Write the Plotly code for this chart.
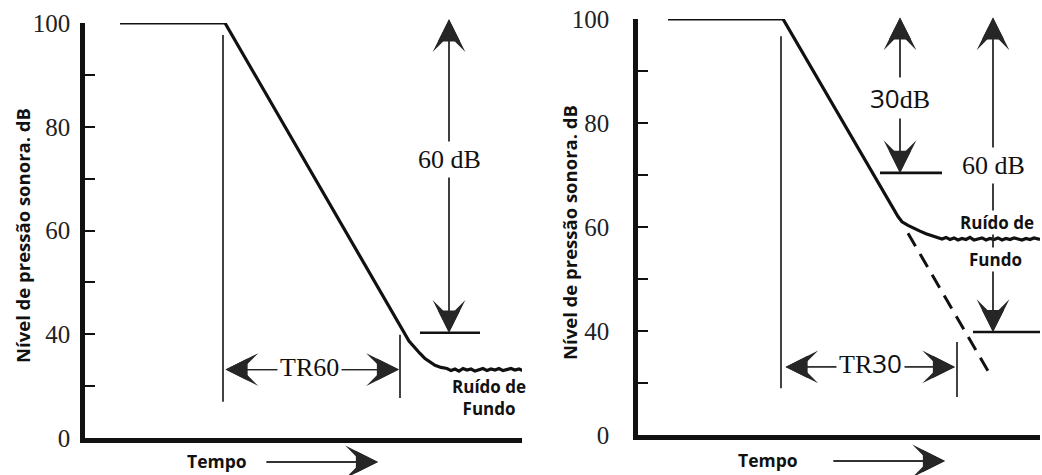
import plotly.graph_objects as go

W, H = 1042, 475

# ---------------- data (time in s, level in dB) ----------------
# Left panel: decay measured over the full 60 dB (TR60)
t_left = [0.35, 1.40, 3.24, 3.30, 3.35, 3.40, 3.45, 3.50, 3.56, 3.62,
          3.66, 3.70, 3.74, 3.78, 3.82, 3.86, 3.90, 3.94, 3.98, 4.02,
          4.06, 4.10, 4.14, 4.18, 4.22, 4.26, 4.30, 4.34, 4.38, 4.40]
db_left = [100, 100, 38.7, 37.3, 36.3, 35.3, 34.6, 34.0, 33.6, 33.4,
           33.0, 33.3, 32.9, 33.4, 33.1, 33.3, 32.9, 33.2, 33.4, 33.0,
           33.3, 33.1, 33.4, 33.0, 33.2, 33.4, 33.1, 33.3, 33.0, 33.2]

# Right panel: decay hits background noise, TR30 extrapolated
t_right = [0.30, 1.45, 2.60, 2.64, 2.70, 2.76, 2.82, 2.88, 2.94, 3.00,
           3.04, 3.08, 3.12, 3.16, 3.20, 3.24, 3.28, 3.32, 3.36, 3.40,
           3.44, 3.48, 3.52, 3.56, 3.60, 3.64, 3.68, 3.72, 3.76, 3.80,
           3.84, 3.88, 3.92, 3.96, 4.00, 4.02]
db_right = [100, 100, 62.0, 61.0, 60.3, 59.7, 59.2, 58.7, 58.3, 58.0,
            57.7, 58.0, 57.6, 57.9, 57.5, 57.8, 57.6, 58.0, 57.5, 57.7,
            57.9, 57.5, 57.8, 57.6, 57.9, 57.5, 57.8, 57.6, 57.9, 57.7,
            57.5, 57.8, 57.6, 57.9, 57.7, 57.6]
t_extrap = [2.70, 3.54]
db_extrap = [58.8, 31.0]

y_tickvals = [20, 40, 60, 80, 100]
y_ticktext = ["0", "40", "60", "80", "100"]
y_minor = [30, 50, 70, 90]

# reference levels / markers (t, dB)
left_top = ([1.55, 3.97], [101.0, 101.0])
left_low = ([3.35, 3.95], [40.3, 40.3])
left_v1 = ([1.38, 1.38], [97.7, 27.0])
left_v2 = ([3.15, 3.15], [39.9, 27.7])
right_top = ([1.55, 4.02], [100.6, 100.6])
right_mid = ([2.42, 3.04], [70.4, 70.4])
right_low = ([3.35, 4.02], [39.8, 39.8])
right_v1 = ([1.43, 1.43], [96.7, 29.0])
right_v2 = ([3.19, 3.19], [37.9, 27.3])

SERIF = "Liberation Serif"
SANS = "Open Sans"
INK = "#111111"
ARROW = "#262626"
HEAD = 4.2      # barbed outline head
CORE = 3.4      # filled core head

fig = go.Figure()

def line(xs, ys, xa, ya, width, dash=None, color=INK):
    fig.add_trace(go.Scatter(x=xs, y=ys, xaxis=xa, yaxis=ya, mode="lines",
                             line=dict(color=color, width=width, dash=dash),
                             cliponaxis=False, hoverinfo="skip", showlegend=False))

# curves
line(t_left, db_left, "x", "y", 3.2)
line(t_right, db_right, "x2", "y2", 3.2)
line(t_extrap, db_extrap, "x2", "y2", 3.0, dash="15px,9px")

# reference lines
for xs, ys in [left_top, left_low]:
    line(xs, ys, "x", "y", 2.6)
for xs, ys in [left_v1, left_v2]:
    line(xs, ys, "x", "y", 1.7, color="#222222")
for xs, ys in [right_top, right_mid, right_low]:
    line(xs, ys, "x2", "y2", 2.6)
for xs, ys in [right_v1, right_v2]:
    line(xs, ys, "x2", "y2", 1.7, color="#222222")

ann = []

def arrow(xr, yr, x0, y0, x1, y1, both=True, ayref=None):
    # stealth-like head: a barbed head plus a filled triangular core
    for style, size in [(3, HEAD), (2, CORE)]:
        ann.append(dict(xref=xr, yref=yr, axref=xr, ayref=ayref or yr,
                        x=x1, y=y1, ax=x0, ay=y0, text="", showarrow=True,
                        arrowhead=style, startarrowhead=style,
                        arrowside="end+start" if both else "end",
                        arrowsize=size, startarrowsize=size,
                        arrowwidth=1.3, arrowcolor=ARROW, standoff=0, startstandoff=0))

def label(xr, yr, x, y, text, font, size, bold=False, bg=None, pad=1):
    ann.append(dict(xref=xr, yref=yr, x=x, y=y, text=text, showarrow=False,
                    font=dict(family=font, size=size, color=INK,
                              weight="bold" if bold else "normal"),
                    bgcolor=bg, borderpad=pad, xanchor="center", yanchor="middle"))

# left panel arrows + labels
arrow("x", "y", 3.64, 101.0, 3.64, 40.3)
arrow("x", "y", 1.39, 33.2, 3.14, 33.2)
label("x", "y", 3.64, 73.6, "60 dB", SERIF, 26, bg="white", pad=3)
label("x", "y", 2.24, 33.5, "TR60", SERIF, 26, bg="white", pad=2)
label("x", "y", 4.04, 27.8, "Ruído de<br>Fundo", SANS, 17, bold=True)

# right panel arrows + labels
arrow("x2", "y2", 2.62, 100.6, 2.62, 70.4)
arrow("x2", "y2", 3.55, 100.6, 3.55, 39.8)
arrow("x2", "y2", 1.46, 33.1, 3.17, 33.1)
label("x2", "y2", 2.62, 84.8,
      "<span style='font-family:Open Sans'>30</span>dB", SERIF, 26, bg="white", pad=2)
label("x2", "y2", 3.55, 71.9, "60 dB", SERIF, 26, bg="white", pad=3)
label("x2", "y2", 2.32, 33.8,
      "TR<span style='font-family:Open Sans'>30</span>", SERIF, 26, bg="white", pad=2)
label("x2", "y2", 3.59, 60.8, "Ruído de", SANS, 17, bold=True, bg="white", pad=0)
label("x2", "y2", 3.57, 53.7, "Fundo", SANS, 17, bold=True, bg="white", pad=0)

# time axis captions with arrows
for xr, tx, t0, t1, py in [("x", 1.32, 1.80, 2.93, 462), ("x2", 1.30, 1.94, 3.07, 461)]:
    label(xr, "paper", tx, 1 - (py - 1) / H, "Tempo", SANS, 17.5, bold=True)
    arrow(xr, "paper", t0, 0, t1, 1 - py / H, both=False, ayref="pixel")

# y-axis titles
for px, py in [(22, 236), (569, 233)]:
    ann.append(dict(xref="paper", yref="paper", x=px / W, y=1 - py / H,
                    text="Nível de pressão sonora. dB", showarrow=False, textangle=-90,
                    font=dict(family=SANS, size=18.5, color=INK, weight="bold"),
                    xanchor="center", yanchor="middle"))

common_x = dict(showline=True, linewidth=4.5, linecolor=INK, showticklabels=False,
                ticks="", showgrid=False, zeroline=False, automargin=False)
common_y = dict(showline=True, linewidth=4.5, linecolor=INK, ticks="inside",
                ticklen=10, tickwidth=2, tickcolor=INK, tickmode="array",
                tickvals=y_tickvals, ticktext=y_ticktext,
                minor=dict(tickmode="array", tickvals=y_minor, ticks="inside",
                           ticklen=10, tickwidth=2, tickcolor=INK),
                showgrid=False, zeroline=False, automargin=False,
                tickfont=dict(family=SERIF, size=25, color="#222222"))

fig.update_layout(
    template="none",
    width=W, height=H, margin=dict(l=0, r=0, t=0, b=0, pad=0),
    paper_bgcolor="white", plot_bgcolor="white", showlegend=False,
    xaxis=dict(domain=[85 / W, 522 / W], range=[0, 4.37], anchor="y", **common_x),
    yaxis=dict(domain=[1 - 438 / H, 1 - 23 / H], range=[20, 100], anchor="x",
               ticklabelstandoff=5, **common_y),
    xaxis2=dict(domain=[638 / W, 1040 / W], range=[0, 4.02], anchor="y2", **common_x),
    yaxis2=dict(domain=[1 - 435 / H, 1 - 19 / H], range=[20, 100], anchor="x2",
                ticklabelstandoff=19, **common_y),
    annotations=ann,
)

fig.write_html("out.html")
